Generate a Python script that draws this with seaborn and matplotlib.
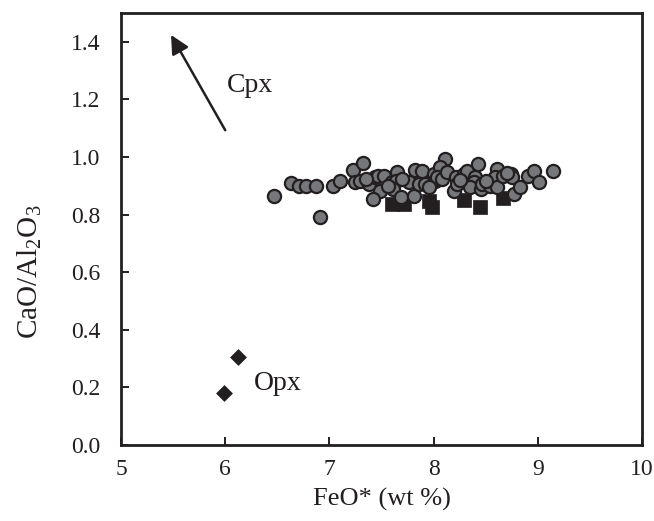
import matplotlib
matplotlib.use("Agg")
import matplotlib.pyplot as plt
import seaborn as sns
import pandas as pd

# Data
circle_x = [6.47, 6.63, 6.71, 6.77, 6.87, 6.91, 7.03, 7.10, 7.23, 7.32, 7.24, 7.29,
            7.38, 7.44, 7.48, 7.47, 7.52, 7.42, 7.60, 7.65, 7.64, 7.61, 7.69, 7.76,
            7.81, 7.82, 7.89, 7.86, 7.92, 8.00, 8.01, 8.05, 8.11, 8.06, 8.03, 8.08,
            8.13, 8.21, 8.19, 8.22, 8.29, 8.32, 8.40, 8.42, 8.39, 8.35, 8.45, 8.46,
            8.54, 8.61, 8.59, 8.61, 8.66, 8.74, 8.75, 8.77, 8.83, 8.90, 8.96, 9.01,
            9.14, 7.56, 7.70, 7.95, 8.25, 8.50, 8.70, 7.35]
circle_y = [0.866, 0.910, 0.900, 0.900, 0.900, 0.790, 0.900, 0.918, 0.956, 0.980, 0.912, 0.918,
            0.906, 0.930, 0.883, 0.933, 0.935, 0.854, 0.912, 0.949, 0.918, 0.889, 0.860, 0.912,
            0.866, 0.956, 0.953, 0.906, 0.906, 0.941, 0.918, 0.924, 0.994, 0.965, 0.930, 0.924,
            0.947, 0.930, 0.883, 0.906, 0.941, 0.953, 0.930, 0.976, 0.912, 0.895, 0.889, 0.906,
            0.900, 0.959, 0.930, 0.895, 0.935, 0.941, 0.930, 0.871, 0.895, 0.935, 0.953, 0.912,
            0.953, 0.900, 0.925, 0.895, 0.920, 0.915, 0.945, 0.925]
square_x = [7.60, 7.71, 7.95, 7.98, 8.29, 8.44, 8.66]
square_y = [0.837, 0.837, 0.848, 0.825, 0.850, 0.827, 0.856]
diamond_x = [6.12, 5.99]
diamond_y = [0.305, 0.180]

sns.set_theme(style="white")
plt.rcParams["font.family"] = ["Liberation Serif", "DejaVu Serif"]
plt.rcParams["mathtext.fontset"] = "custom"
plt.rcParams["mathtext.rm"] = "Liberation Serif"
plt.rcParams["mathtext.it"] = "Liberation Serif"

fig = plt.figure(figsize=(6.54, 5.21), dpi=100)
ax = fig.add_axes([0.185, 0.146, 0.797, 0.829])

dark = "#231f20"
df_c = pd.DataFrame({"x": circle_x, "y": circle_y})
df_s = pd.DataFrame({"x": square_x, "y": square_y})
df_d = pd.DataFrame({"x": diamond_x, "y": diamond_y})

sns.scatterplot(data=df_c, x="x", y="y", ax=ax, marker="o", s=90,
                color="#76777a", edgecolor=dark, linewidth=1.6, zorder=3)
sns.scatterplot(data=df_s, x="x", y="y", ax=ax, marker="s", s=95,
                color=dark, edgecolor=dark, linewidth=0.5, zorder=2)
sns.scatterplot(data=df_d, x="x", y="y", ax=ax, marker="D", s=65,
                color=dark, edgecolor=dark, linewidth=0.5, zorder=3)

ax.annotate("", xy=(5.48, 1.424), xytext=(6.0, 1.093),
            arrowprops=dict(arrowstyle="-|>", color=dark, lw=1.8,
                            mutation_scale=28, shrinkA=0, shrinkB=0))
ax.text(6.02, 1.25, "Cpx", fontsize=20, color=dark, va="center", ha="left")
ax.text(6.27, 0.214, "Opx", fontsize=20, color=dark, va="center", ha="left")

ax.set_xlim(5, 10)
ax.set_ylim(0, 1.5)
ax.set_xticks([5, 6, 7, 8, 9, 10])
ax.set_yticks([0.0, 0.2, 0.4, 0.6, 0.8, 1.0, 1.2, 1.4])
ax.set_yticklabels([f"{v:.1f}" for v in [0.0, 0.2, 0.4, 0.6, 0.8, 1.0, 1.2, 1.4]])
ax.set_xlabel("FeO* (wt %)", fontsize=19, color=dark, labelpad=6)
ax.set_ylabel(r"CaO/Al$_{\mathregular{2}}$O$_{\mathregular{3}}$", fontsize=21, color=dark)
ax.yaxis.set_label_coords(-0.147, 0.40)
ax.tick_params(axis="both", direction="in", length=6, width=1.4, colors=dark,
               labelsize=17, left=True, bottom=True)
ax.tick_params(axis="x", pad=10)
ax.tick_params(axis="y", pad=15)
for sp in ax.spines.values():
    sp.set_color(dark)
    sp.set_linewidth(2)
    sp.set_visible(True)

fig.savefig("out.png", dpi=100)
